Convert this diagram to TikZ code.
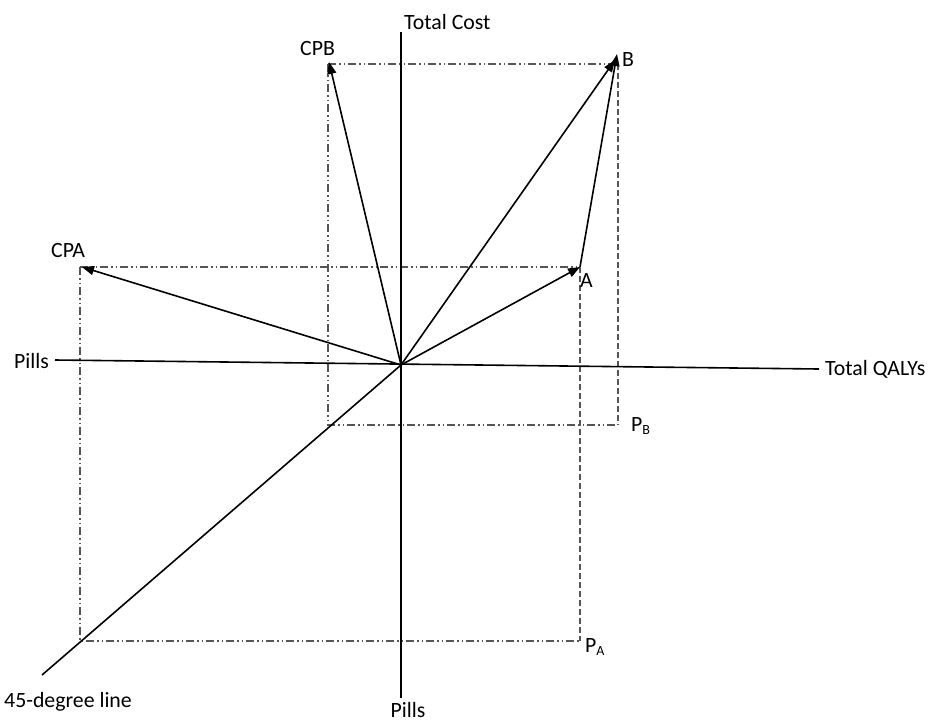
\documentclass[tikz,border=0pt]{standalone}
\usepackage{fontspec}
\setmainfont{Carlito}
\usetikzlibrary{arrows.meta}
\definecolor{guide}{RGB}{85,85,85}
\begin{document}
\begin{tikzpicture}[x=1pt,y=-1pt,
  axis/.style={line width=1.6pt,black},
  vec/.style={line width=1.6pt,black,-{Triangle[length=12pt,width=9pt]}},
  guideddd/.style={line width=1.3pt,guide,dash pattern=on 8pt off 3pt on 1.5pt off 3pt on 1.5pt off 3pt},
  guidedash/.style={line width=1.3pt,guide,dash pattern=on 6pt off 3pt},
  lbl/.style={inner sep=0pt,font=\fontsize{21.8}{25}\selectfont}]
\useasboundingbox (0,0) rectangle (930,721);
% key points
\coordinate (O) at (401,365);
\coordinate (B) at (618,64);
\coordinate (CPB) at (328,64);
\coordinate (A) at (580,267);
\coordinate (CPA) at (80,267);
\coordinate (PB) at (618,425);
\coordinate (QB) at (328,425);
\coordinate (PA) at (580,641);
\coordinate (QA) at (80,641);
% axis ends
\coordinate (ytop) at (401,32);
\coordinate (ybot) at (401,698);
\coordinate (xl) at (55,360);
\coordinate (xr) at (819,369);
\coordinate (dl) at (42,675);
% guides
\draw[guideddd] (CPB) -- (B);
\draw[guideddd] (CPB) -- (QB) -- (PB);
\draw[guidedash] (B) -- (PB);
\draw[guideddd] (CPA) -- (A);
\draw[guideddd] (CPA) -- (QA) -- (PA);
\draw[guidedash] (A) -- (PA);
% axes
\draw[axis] (ytop) -- (ybot);
\draw[axis] (xl) -- (xr);
\draw[axis] (dl) -- (O);
% vectors
\draw[vec] (O) -- ([xshift=-3pt,yshift=4pt]B);
\draw[vec] (O) -- ([xshift=1pt,yshift=2pt]CPB);
\draw[vec] (O) -- (A);
\draw[vec] (O) -- ([xshift=2pt]CPA);
\draw[vec] (A) -- ([xshift=-1pt,yshift=10pt]B);
% labels
\node[lbl,anchor=base west] (tcost) at (404,29) {Total Cost};
\node[lbl,anchor=base west] (lcpb) at (300,55) {CPB};
\node[lbl,anchor=base west] (lb) at (622,66) {B};
\node[lbl,anchor=base west] (lcpa) at (51,257) {CPA};
\node[lbl,anchor=base west] (la) at (580,287) {A};
\node[lbl,anchor=base west] (lpb) at (631,431) {P\lower3pt\hbox{\fontsize{14}{14}\selectfont B}};
\node[lbl,anchor=base west] (lpa) at (585,652) {P\lower3pt\hbox{\fontsize{14}{14}\selectfont A}};
\node[lbl,anchor=base west] (tq) at (825,375) {Total QALYs};
\node[lbl,anchor=base east] (pl) at (49,368) {Pills};
\node[lbl,anchor=base] (pb) at (408,717) {Pills};
\node[lbl,anchor=base east] (deg) at (132,707) {45-degree line};
\end{tikzpicture}
\end{document}
